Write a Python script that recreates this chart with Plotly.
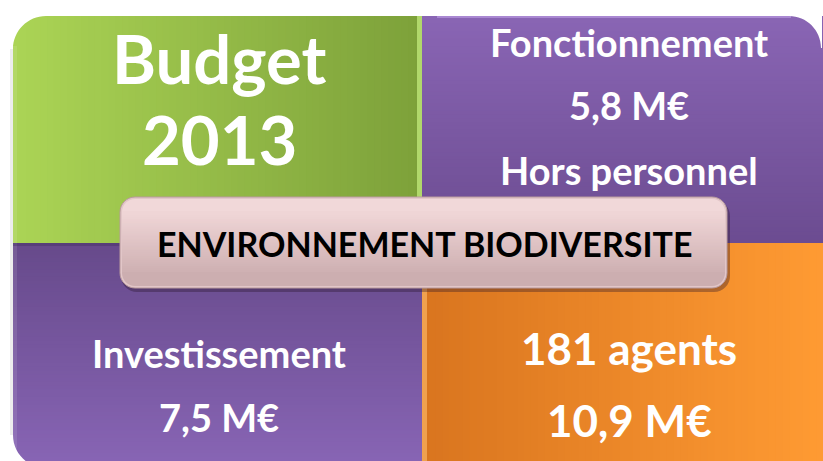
import plotly.graph_objects as go

# ---- data (text content) ----
title_lines = ["Budget", "2013"]
fonct_lines = ["Fonctionnement", "5,8 M€", "Hors personnel"]
invest_lines = ["Investissement", "7,5 M€"]
agents_lines = ["181 agents", "10,9 M€"]
center_label = "ENVIRONNEMENT BIODIVERSITE"

W, H = 823, 461
FONT = "Lato, 'Open Sans', sans-serif"

shapes = []
annotations = []


def hexrgb(h):
    h = h.lstrip("#")
    return tuple(int(h[i:i + 2], 16) for i in (0, 2, 4))


def mix(c0, c1, t):
    a, b = hexrgb(c0), hexrgb(c1)
    return "rgb(%d,%d,%d)" % tuple(round(a[i] + (b[i] - a[i]) * t) for i in range(3))


def grad_rect(x0, x1, y0, y1, c0, c1, horizontal=True, n=60):
    # stacked stripes: each stripe runs to the far end, so no seams appear
    for i in range(n):
        t = i / (n - 1)
        col = mix(c0, c1, t)
        if horizontal:
            a = x0 + (x1 - x0) * i / n
            shapes.append(dict(type="rect", x0=a, x1=x1, y0=y0, y1=y1,
                               fillcolor=col, line_width=0, layer="below"))
        else:
            a = y0 + (y1 - y0) * i / n
            shapes.append(dict(type="rect", x0=x0, x1=x1, y0=a, y1=y1,
                               fillcolor=col, line_width=0, layer="below"))


def corner_mask(cx, cy, r, sx, sy, color="white"):
    k = 0.5523
    p1 = (cx + sx * r, cy)
    p2 = (cx, cy + sy * r)
    c1 = (cx + sx * r * (1 - k), cy)
    c2 = (cx, cy + sy * r * (1 - k))
    path = (f"M {cx - sx},{cy - sy} L {p1[0]},{cy - sy} L {p1[0]},{p1[1]} "
            f"C {c1[0]},{c1[1]} {c2[0]},{c2[1]} {p2[0]},{p2[1]} L {cx - sx},{p2[1]} Z")
    shapes.append(dict(type="path", path=path, fillcolor=color, line_width=0,
                       layer="below"))


def rounded_path(x0, x1, y0, y1, r):
    k = 0.5523 * r
    return (f"M {x0+r},{y0} L {x1-r},{y0} C {x1-r+k},{y0} {x1},{y0+r-k} {x1},{y0+r} "
            f"L {x1},{y1-r} C {x1},{y1-r+k} {x1-r+k},{y1} {x1-r},{y1} "
            f"L {x0+r},{y1} C {x0+r-k},{y1} {x0},{y1-r+k} {x0},{y1-r} "
            f"L {x0},{y0+r} C {x0},{y0+r-k} {x0+r-k},{y0} {x0+r},{y0} Z")


XL, XM, XR = 13, 422, 821
YT, YM, YB = 16, 243, 468

# quadrants
grad_rect(XL, XM, YT, YM, "#abd455", "#7da13a", horizontal=True)
grad_rect(XM, XR + 4, YT, YM, "#8965b4", "#6c4c91", horizontal=False)
grad_rect(XL, XM, YM, YB, "#674a8b", "#8865b5", horizontal=False)
grad_rect(XM, 830, YM, YB, "#d9751f", "#ff9b33", horizontal=True)

# bevel highlights
shapes.append(dict(type="rect", x0=XM - 5, x1=XM, y0=YT, y1=YM,
                   fillcolor="rgba(190,230,120,0.8)", line_width=0, layer="below"))
shapes.append(dict(type="rect", x0=XM, x1=XM + 5, y0=YM, y1=YB,
                   fillcolor="rgba(255,190,110,0.6)", line_width=0, layer="below"))
shapes.append(dict(type="rect", x0=XM + 15, x1=XR - 30, y0=YT, y1=YT + 2,
                   fillcolor="rgba(190,160,230,0.6)", line_width=0, layer="below"))
shapes.append(dict(type="rect", x0=XL, x1=XL + 4, y0=YT + 30, y1=YB,
                   fillcolor="rgba(255,255,255,0.10)", line_width=0, layer="below"))
shapes.append(dict(type="rect", x0=XL, x1=XM, y0=YM, y1=YM + 3,
                   fillcolor="rgba(60,40,90,0.35)", line_width=0, layer="below"))

# rounded outer corners
corner_mask(XL, YT, 33, 1, 1)
corner_mask(XR, YT, 32, -1, 1)
corner_mask(XL, YB, 33, 1, -1)
# thin soft edge on the left
shapes.append(dict(type="rect", x0=XL - 3, x1=XL, y0=YT + 33, y1=YB - 33,
                   fillcolor="rgba(0,0,0,0.07)", line_width=0, layer="below"))

# center box with shadow
bx0, bx1, by0, by1 = 120, 727, 197, 288
shapes.append(dict(type="path", path=rounded_path(bx0 + 1, bx1 + 3, by0 + 3, by1 + 4, 16),
                   fillcolor="rgba(40,20,40,0.35)", line_width=0, layer="below"))
shapes.append(dict(type="path", path=rounded_path(bx0, bx1, by0, by1, 15),
                   fillcolor="#e2c6c8", line=dict(color="#b89a9d", width=1),
                   layer="below"))
grad_rect(bx0 + 2, bx1 - 2, by0 + 14, by1 - 14, "#efd5d6", "#d0b2b4", horizontal=False, n=30)
shapes.append(dict(type="path", path=rounded_path(bx0 + 2, bx1 - 2, by0 + 2, by0 + 30, 13),
                   fillcolor="#f1d8d9", line_width=0, layer="below"))
shapes.append(dict(type="rect", x0=bx0 + 2, x1=bx1 - 2, y0=by0 + 14, y1=by0 + 16,
                   fillcolor="#efd5d6", line_width=0, layer="below"))
shapes.append(dict(type="path", path=rounded_path(bx0 + 2, bx1 - 2, by1 - 30, by1 - 2, 13),
                   fillcolor="#ccaeb0", line_width=0, layer="below"))
grad_rect(bx0 + 2, bx1 - 2, by0 + 16, by1 - 16, "#efd5d6", "#cfb1b3", horizontal=False, n=30)


def add_text(txt, x, y, size, color="white"):
    annotations.append(dict(text=f"<b>{txt}</b>", x=x, y=y, xref="x", yref="y",
                            showarrow=False, xanchor="center", yanchor="middle",
                            font=dict(family=FONT, size=size, color=color)))


add_text(title_lines[0], 219, 58, 67)
add_text(title_lines[1], 219, 139, 67)
for txt, y in zip(fonct_lines, [42, 105, 170]):
    add_text(txt, 629, y, 38)
for txt, y in zip(invest_lines, [353, 417]):
    add_text(txt, 219, y, 38)
for txt, y in zip(agents_lines, [348, 420]):
    add_text(txt, 629, y, 44)
add_text(center_label, 424, 243, 34, color="black")

fig = go.Figure()
fig.update_layout(
    width=W, height=H,
    margin=dict(l=0, r=0, t=0, b=0),
    paper_bgcolor="white", plot_bgcolor="white",
    xaxis=dict(range=[0, W], visible=False, fixedrange=True),
    yaxis=dict(range=[H, 0], visible=False, fixedrange=True),
    shapes=shapes, annotations=annotations, showlegend=False,
)
fig.write_html("out.html", config={"displayModeBar": False},
               post_script="document.body.style.margin='0';document.body.style.overflow='hidden';")
